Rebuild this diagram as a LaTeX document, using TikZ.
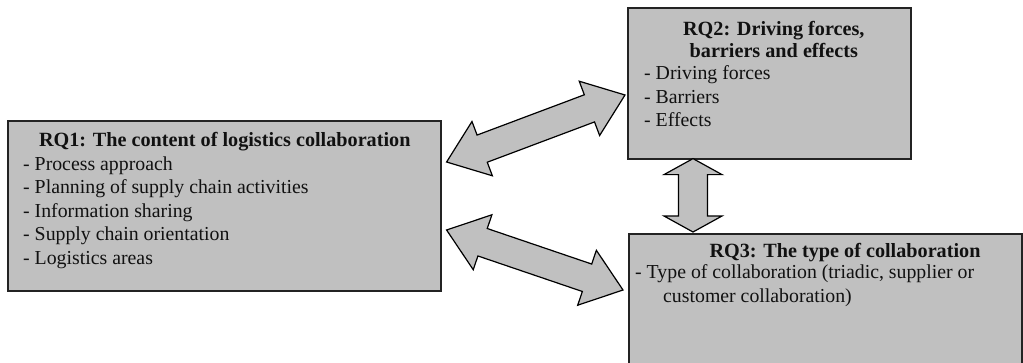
\documentclass[tikz,border=0pt]{standalone}
\usepackage{fontspec}
\setmainfont{Liberation Serif}
\usetikzlibrary{calc}

\definecolor{boxfill}{HTML}{C0C0C0}
\definecolor{boxedge}{HTML}{232323}
\definecolor{ink}{HTML}{111111}

% Double-headed block arrow between two points: #1, #2 tips, #3 head length
\newcommand\dblarrow[3]{%
  \draw[blockarrow] let \p1=($(#2)-(#1)$), \n2={atan2(\y1,\x1)} in
    (#1)
    -- ($(#1)+(\n2:#3)+(\n2+90:29pt)$)
    -- ($(#1)+(\n2:#3)+(\n2+90:14.5pt)$)
    -- ($(#2)+(\n2:-#3)+(\n2+90:14.5pt)$)
    -- ($(#2)+(\n2:-#3)+(\n2+90:29pt)$)
    -- (#2)
    -- ($(#2)+(\n2:-#3)+(\n2-90:29pt)$)
    -- ($(#2)+(\n2:-#3)+(\n2-90:14.5pt)$)
    -- ($(#1)+(\n2:#3)+(\n2-90:14.5pt)$)
    -- ($(#1)+(\n2:#3)+(\n2-90:29pt)$)
    -- cycle;}

\tikzset{
  rqbox/.style={draw=boxedge, line width=1.6pt, fill=boxfill, inner sep=0pt,
    anchor=north west},
  blockarrow/.style={draw=black, line width=1.2pt, fill=boxfill, line join=miter},
  % multi-line nodes: the base anchor sits on the last line
  heading/.style={font=\fontsize{20.2}{22}\selectfont\bfseries, text=ink,
    inner sep=0pt, align=center, anchor=base},
  items/.style={font=\fontsize{19.8}{23.5}\selectfont, text=ink,
    inner sep=0pt, align=left, anchor=base west},
}

\begin{document}
\begin{tikzpicture}[x=1pt, y=-1pt]
  \useasboundingbox (0,0) rectangle (1023,362);
  \clip (0,0) rectangle (1023,362);

  % the three research-question boxes
  \node[rqbox, minimum width=433pt, minimum height=170pt] (rq1) at (7,120) {};
  \node[rqbox, minimum width=283pt, minimum height=151pt] (rq2) at (627,7) {};
  \node[rqbox, minimum width=393pt, minimum height=145pt] (rq3) at (628,233) {};

  % box texts
  \node[heading] (rq1h) at ($(rq1.north)+(0.5,26)$)
    {RQ1: The content of logistics collaboration};
  \node[items] (rq1i) at ($(rq1.north west)+(16,144)$)
    {- Process approach\\- Planning of supply chain activities\\- Information sharing\\- Supply chain orientation\\- Logistics areas};

  \node[heading] (rq2h) at ($(rq2.north)+(4.5,50)$)
    {RQ2: Driving forces,\\barriers and effects};
  \node[items] (rq2i) at ($(rq2.north west)+(17,119.5)$)
    {- Driving forces\\- Barriers\\- Effects};

  \node[heading] (rq3h) at ($(rq3.north west)+(217,24)$)
    {RQ3: The type of collaboration};
  \node[items] (rq3i) at ($(rq3.north west)+(7,69)$)
    {- Type of collaboration (triadic, supplier or\\\hspace*{28pt}customer collaboration)};

  % arrow tips next to the boxes
  \coordinate (a1) at ($(rq1.north east)+(5,42)$);
  \coordinate (a2) at ($(rq2.north west)+(-2,88)$);
  \coordinate (b1) at ($(rq1.north east)+(5,110)$);
  \coordinate (b2) at ($(rq3.north west)+(-5,57)$);
  \coordinate (c1) at ($(rq2.south west)+(66,-1)$);
  \coordinate (c2) at ($(rq3.north west)+(65,-1)$);

  % two-way links between the research questions
  \dblarrow{a1}{a2}{38pt}
  \dblarrow{b1}{b2}{38pt}
  \dblarrow{c1}{c2}{16pt}
\end{tikzpicture}
\end{document}
